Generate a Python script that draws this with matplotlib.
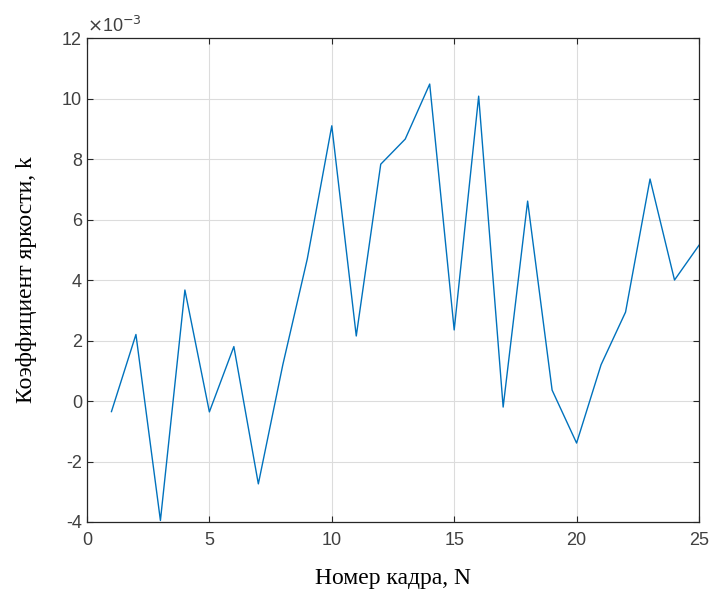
import numpy as np
import matplotlib.pyplot as plt
from matplotlib.ticker import FuncFormatter

# frame numbers and brightness coefficient (x 1e-3)
frames = list(range(1, 26))
k_values = [-0.35, 2.2, -3.95, 3.67, -0.36, 1.8, -2.74, 1.2, 4.7, 9.1,
            2.15, 7.83, 8.66, 10.48, 2.35, 10.08, -0.2, 6.61, 0.36, -1.39,
            1.2, 2.94, 7.34, 4.0, 5.15]
x_ticks = [0, 5, 10, 15, 20, 25]
y_ticks = [-4, -2, 0, 2, 4, 6, 8, 10, 12]

k = np.array(k_values) * 1e-3

fig = plt.figure(figsize=(7.1, 5.95), dpi=100)
ax = fig.add_axes([0.1225, 0.1227, 0.862, 0.8133])

ax.plot(frames, k, color=(0, 0.447, 0.741), linewidth=1.0)

ax.set_xlim(0, 25)
ax.set_ylim(-4e-3, 12e-3)
ax.set_xticks(x_ticks)
ax.set_yticks(np.array(y_ticks) * 1e-3)
ax.yaxis.set_major_formatter(FuncFormatter(lambda v, p: '%d' % round(v * 1e3)))

gray = '#262626'
ax.grid(True, color='#dcdcdc', linewidth=0.8)
ax.set_axisbelow(True)
ax.tick_params(direction='in', length=4, colors=gray, labelsize=13,
               top=True, right=True, labelcolor='#404040')
ax.tick_params(axis='x', pad=7)
for s in ax.spines.values():
    s.set_color(gray)
    s.set_linewidth(0.9)
for lab in ax.get_xticklabels() + ax.get_yticklabels():
    lab.set_family('Liberation Sans')

ax.text(0.0, 1.005, r'$\times$10$^{-3}$', transform=ax.transAxes,
        family='Liberation Sans', fontsize=13, color='#404040',
        ha='left', va='bottom')

ax.set_xlabel('Номер кадра, N', family='Liberation Serif', fontsize=17, labelpad=14)
ax.set_ylabel('Коэффициент яркости, k', family='Liberation Serif', fontsize=17, labelpad=18)

fig.savefig('out.png', dpi=100)
